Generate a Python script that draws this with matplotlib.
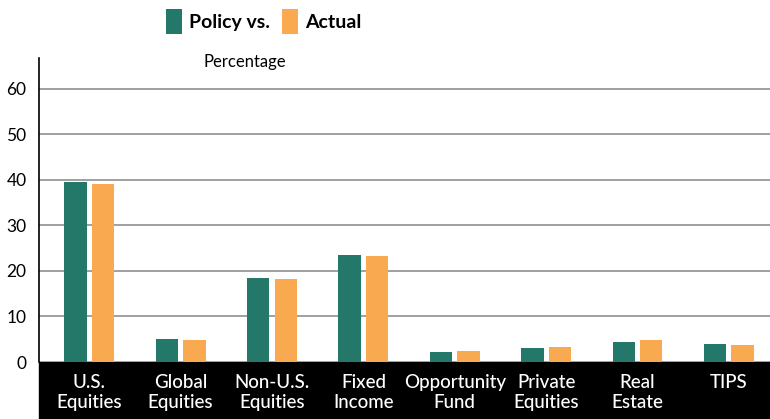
#!/usr/bin/env python3
"""Policy vs. actual asset allocation bar chart."""

import matplotlib.pyplot as plt
from matplotlib.patches import Rectangle
import numpy as np

categories = ["U.S.\nEquities", "Global\nEquities", "Non-U.S.\nEquities",
              "Fixed\nIncome", "Opportunity\nFund", "Private\nEquities",
              "Real\nEstate", "TIPS"]
policy = [39.6, 5.1, 18.5, 23.5, 2.2, 3.1, 4.4, 4.0]
actual = [39.1, 4.8, 18.2, 23.3, 2.4, 3.3, 4.8, 3.7]
yticks = [0, 10, 20, 30, 40, 50, 60]

GREEN = "#24786a"
ORANGE = "#f9a94f"

plt.rcParams['font.family'] = ['Lato', 'DejaVu Sans']

W, H = 770, 419
fig = plt.figure(figsize=(W / 100, H / 100), dpi=100)
ax = fig.add_axes([39 / W, 57 / H, (W - 39) / W, (362 - 58) / H])
ax.set_zorder(2)

x = np.arange(len(categories))
bw = 0.245
ax.bar(x - 0.15, policy, bw, color=GREEN, label="Policy vs.", zorder=3)
ax.bar(x + 0.15, actual, bw, color=ORANGE, label="Actual", zorder=3)

ax.set_xlim(-0.55, 7.45)
ax.set_ylim(0, 66.8)
ax.set_yticks(yticks)
ax.set_yticklabels([str(t) for t in yticks], fontsize=12.5)
ax.set_xticks(x)
ax.set_xticklabels(categories, color="white", fontsize=13.5,
                   fontweight="medium", linespacing=1.25)
ax.tick_params(axis="both", length=0)
ax.tick_params(axis="x", pad=8.5)
ax.tick_params(axis="y", pad=9)
ax.grid(axis="y", color="#999999", linewidth=1.3, zorder=0)
for s in ["top", "right", "bottom"]:
    ax.spines[s].set_visible(False)
ax.spines["left"].set_linewidth(1.2)

# black band under the x axis
fig.patches.append(Rectangle((39 / W, 0), 1 - 39 / W, 57 / H,
                             transform=fig.transFigure, color="black",
                             zorder=-1))

fig.text(245 / W, 1 - 62 / H, "Percentage", ha="center", va="center",
         fontsize=12)

leg = fig.legend(loc="upper center", bbox_to_anchor=(264 / W, 1.0 + 8 / H),
                 ncol=2, frameon=False, handlelength=0.8, handleheight=1.6,
                 handletextpad=0.4, columnspacing=0.6,
                 prop={"size": 14, "weight": "bold"})

fig.savefig("out.png", dpi=100)
